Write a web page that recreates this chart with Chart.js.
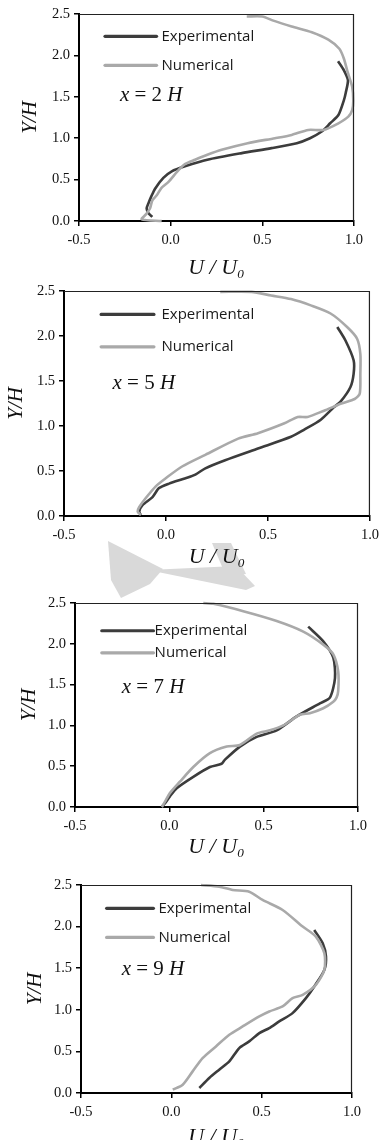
<!DOCTYPE html>
<html><head><meta charset="utf-8">
<script src="https://cdn.jsdelivr.net/npm/chart.js@4.4.1/dist/chart.umd.min.js"></script>
<style>
html,body{margin:0;padding:0;background:#fff;width:384px;height:1140px;overflow:hidden;position:relative}
.wrap{position:absolute;left:0;width:384px}
svg.wm{position:absolute;left:0;top:0}
</style></head><body>
<svg class="wm" width="384" height="1140">
  <polygon points="108,541 163,569 150,584 121,598 111,580" fill="#d9d9d9"/>
  <polygon points="148,570 236,566 255,586 246,590" fill="#d9d9d9"/>
  <polygon points="212,543 231,543 246,574 226,576" fill="#d9d9d9"/>
</svg>
<div class="wrap" id="w1"><canvas id="c1"></canvas></div>
<div class="wrap" id="w2"><canvas id="c2"></canvas></div>
<div class="wrap" id="w3"><canvas id="c3"></canvas></div>
<div class="wrap" id="w4"><canvas id="c4"></canvas></div>
<script>
// ---------- DATA ----------
const xTicks = [-0.5, 0.0, 0.5, 1.0];
const yTicks = [0.0, 0.5, 1.0, 1.5, 2.0, 2.5];
const seriesNames = ['Experimental', 'Numerical'];
const stations = ['2', '5', '7', '9'];
const xAxisTitle = 'U / U\u2080';
const yAxisTitle = 'Y/H';

// x = 2H
const exp2_u = [0.913,0.945,0.967,0.955,0.945,0.915,0.87,0.824,0.76,0.688,0.55,0.388,0.2,0.078,0.006,-0.04,-0.085,-0.105,-0.12,-0.131,-0.12,-0.10];
const exp2_y = [1.93,1.82,1.70,1.55,1.46,1.28,1.18,1.08,1.00,0.94,0.88,0.82,0.74,0.66,0.60,0.52,0.39,0.30,0.22,0.15,0.09,0.05];
const num2_u = [0.415,0.50,0.56,0.66,0.77,0.86,0.92,0.945,0.965,0.99,0.996,0.99,0.969,0.915,0.833,0.751,0.66,0.569,0.42,0.278,0.20,0.133,0.08,0.045,-0.013,-0.05,-0.076,-0.10,-0.113,-0.135,-0.158,-0.049];
const num2_y = [2.47,2.47,2.42,2.35,2.28,2.19,2.08,1.96,1.80,1.62,1.45,1.34,1.26,1.18,1.10,1.10,1.04,1.00,0.94,0.86,0.80,0.74,0.69,0.62,0.47,0.40,0.31,0.25,0.15,0.08,0.02,0.0];

// x = 5H
const exp5_u = [0.84,0.88,0.92,0.92,0.904,0.856,0.824,0.759,0.678,0.613,0.451,0.29,0.193,0.144,0.096,0.015,-0.034,-0.066,-0.115,-0.131,-0.123];
const exp5_y = [2.10,1.95,1.73,1.58,1.43,1.27,1.21,1.07,0.96,0.88,0.75,0.62,0.53,0.46,0.42,0.36,0.31,0.21,0.12,0.05,0.01];
const num5_u = [0.266,0.419,0.516,0.613,0.71,0.807,0.888,0.937,0.953,0.953,0.95,0.925,0.86,0.775,0.694,0.646,0.581,0.451,0.354,0.193,0.079,-0.001,-0.05,-0.099,-0.131,-0.139,-0.123];
const num5_y = [2.49,2.49,2.45,2.41,2.34,2.25,2.10,1.97,1.80,1.58,1.36,1.30,1.25,1.17,1.10,1.10,1.03,0.92,0.86,0.68,0.55,0.42,0.33,0.20,0.10,0.05,0.01];

// x = 7H
const exp7_u = [0.736,0.816,0.869,0.878,0.851,0.798,0.675,0.569,0.463,0.374,0.295,0.277,0.215,0.127,0.039,0.003,-0.023,-0.04];
const exp7_y = [2.21,2.03,1.83,1.58,1.34,1.27,1.11,0.94,0.86,0.74,0.58,0.53,0.49,0.37,0.23,0.13,0.045,0.0];
const num7_u = [0.18,0.233,0.392,0.569,0.71,0.816,0.869,0.895,0.895,0.886,0.869,0.816,0.745,0.692,0.604,0.533,0.463,0.374,0.304,0.215,0.127,0.056,0.003,-0.023,-0.04];
const num7_y = [2.50,2.49,2.40,2.28,2.15,1.99,1.87,1.66,1.42,1.34,1.29,1.21,1.15,1.13,1.00,0.94,0.90,0.76,0.74,0.66,0.49,0.31,0.17,0.065,0.0];

// x = 9H
const exp9_u = [0.791,0.838,0.856,0.847,0.791,0.745,0.671,0.597,0.542,0.487,0.431,0.376,0.321,0.265,0.21,0.155];
const exp9_y = [1.96,1.80,1.64,1.48,1.28,1.14,0.96,0.86,0.78,0.72,0.62,0.54,0.38,0.28,0.18,0.06];
const num9_u = [0.164,0.265,0.339,0.431,0.505,0.616,0.727,0.80,0.847,0.847,0.80,0.727,0.671,0.616,0.542,0.487,0.395,0.321,0.247,0.173,0.118,0.063,0.008];
const num9_y = [2.50,2.48,2.44,2.42,2.32,2.20,2.00,1.88,1.68,1.48,1.30,1.18,1.14,1.04,0.98,0.92,0.80,0.70,0.56,0.42,0.26,0.10,0.04];

// ---------- LAYOUT (page pixels / data-unit anchors) ----------
const layouts = [
  {cTop:0,   l:79, r:354, t:14,  b:221,  yTitleX:30, xTitleD:47, leg:{u0:-0.358,u1:-0.077,ut:-0.05, y:[2.23,1.88]}, note:{u:-0.277, y:1.52}},
  {cTop:277, l:64, r:373, t:291, b:516,  yTitleX:16, xTitleD:41, leg:{u0:-0.318,u1:-0.059,ut:-0.022,y:[2.24,1.88]}, note:{u:-0.262, y:1.47}},
  {cTop:589, l:75, r:358, t:603, b:807,  yTitleX:29, xTitleD:40, leg:{u0:-0.358,u1:-0.084,ut:-0.078,y:[2.16,1.89]}, note:{u:-0.252, y:1.46}},
  {cTop:871, l:81, r:352, t:885, b:1093, yTitleX:35, xTitleD:44, leg:{u0:-0.358,u1:-0.099,ut:-0.071,y:[2.22,1.87]}, note:{u:-0.275, y:1.48}}
];
const colors = ['#3c3c3c', '#a9a9a9'];

const framePlugin = {
  id: 'frame',
  afterDatasetsDraw(chart) {
    const {ctx, chartArea: a} = chart;
    ctx.save();
    ctx.strokeStyle = '#222';
    ctx.lineWidth = 1.2;
    ctx.beginPath();
    ctx.moveTo(a.left, a.top + 0.5);
    ctx.lineTo(a.right - 0.5, a.top + 0.5);
    ctx.lineTo(a.right - 0.5, a.bottom);
    ctx.stroke();
    ctx.restore();
  }
};

const annotPlugin = {
  id: 'annot',
  afterDatasetsDraw(chart, args, opts) {
    const {ctx} = chart;
    const xs = chart.scales.x, ys = chart.scales.y;
    const L = opts.leg;
    ctx.save();
    chart.data.datasets.forEach((ds, i) => {
      const py = ys.getPixelForValue(L.y[i]);
      ctx.strokeStyle = ds.borderColor;
      ctx.lineWidth = 3.2;
      ctx.lineCap = 'round';
      ctx.beginPath();
      ctx.moveTo(xs.getPixelForValue(L.u0), py);
      ctx.lineTo(xs.getPixelForValue(L.u1), py);
      ctx.stroke();
      ctx.fillStyle = '#1a1a1a';
      ctx.font = '15px "Open Sans"';
      ctx.textBaseline = 'middle';
      ctx.textAlign = 'left';
      ctx.fillText(ds.label, xs.getPixelForValue(L.ut), py);
    });
    // station note: x = nH
    const N = opts.note;
    let px = xs.getPixelForValue(N.u);
    const py = ys.getPixelForValue(N.y);
    ctx.fillStyle = '#111';
    ctx.textBaseline = 'middle';
    const parts = [
      ['italic 21px "Liberation Serif"', 'x'],
      ['21px "Liberation Serif"', ' = ' + opts.station + ' '],
      ['italic 21px "Liberation Serif"', 'H']
    ];
    parts.forEach(([f, s]) => {
      ctx.font = f;
      ctx.fillText(s, px, py);
      px += ctx.measureText(s).width;
    });
    ctx.restore();
  }
};

function makeChart(idx, expU, expY, numU, numY) {
  const L = layouts[idx];
  const canvas = document.getElementById('c' + (idx + 1));
  const H = L.b - L.cTop + 70;
  const wrap = canvas.parentNode;
  wrap.style.top = L.cTop + 'px';
  wrap.style.height = H + 'px';
  canvas.width = 384;
  canvas.height = H;
  canvas.style.width = '384px';
  canvas.style.height = H + 'px';
  const pts = (u, y) => u.map((v, i) => ({x: v, y: y[i]}));
  const tickFont = {family: '"Liberation Serif"', size: 14.5};
  new Chart(canvas, {
    type: 'scatter',
    data: {
      datasets: [
        {label: seriesNames[0], data: pts(expU, expY), borderColor: colors[0], backgroundColor: colors[0],
         showLine: true, pointRadius: 0, borderWidth: 2.6, tension: 0.25, order: 1, clip: 4},
        {label: seriesNames[1], data: pts(numU, numY), borderColor: colors[1], backgroundColor: colors[1],
         showLine: true, pointRadius: 0, borderWidth: 2.6, tension: 0.25, order: 0, clip: 4}
      ]
    },
    options: {
      responsive: false,
      animation: false,
      devicePixelRatio: 1,
      layout: {padding: {left: 0, right: 384 - L.r, top: L.t - L.cTop, bottom: 0}},
      plugins: {
        legend: {display: false},
        tooltip: {enabled: false},
        annot: {leg: L.leg, note: L.note, station: stations[idx]}
      },
      scales: {
        x: {
          type: 'linear', min: -0.5, max: 1.0,
          afterBuildTicks: s => { s.ticks = xTicks.map(v => ({value: v})); },
          afterFit: s => { s.height = 70; },
          ticks: {callback: v => Number(v).toFixed(1), font: tickFont, color: '#111', padding: 5, maxRotation: 0, autoSkip: false},
          grid: {drawOnChartArea: false, drawTicks: true, tickLength: 5, color: '#000', lineWidth: 1.5},
          border: {display: true, color: '#000', width: 2},
          title: {display: true, text: xAxisTitle, color: '#111',
                  font: {family: '"Liberation Serif"', style: 'italic', size: 22, lineHeight: 1.2},
                  padding: {top: 0, bottom: 70 - L.xTitleD - 13.2}}
        },
        y: {
          type: 'linear', min: 0, max: 2.5,
          afterBuildTicks: s => { s.ticks = yTicks.map(v => ({value: v})); },
          afterFit: s => { s.width = L.l; },
          ticks: {callback: v => Number(v).toFixed(1), font: tickFont, color: '#111', padding: 4},
          grid: {drawOnChartArea: false, drawTicks: true, tickLength: 5, color: '#000', lineWidth: 1.5},
          border: {display: true, color: '#000', width: 2},
          title: {display: true, text: yAxisTitle, color: '#111',
                  font: {family: '"Liberation Serif"', style: 'italic', size: 21, lineHeight: 1.2},
                  padding: {top: L.yTitleX - 12.6, bottom: 0}}
        }
      }
    },
    plugins: [framePlugin, annotPlugin]
  });
}

makeChart(0, exp2_u, exp2_y, num2_u, num2_y);
makeChart(1, exp5_u, exp5_y, num5_u, num5_y);
makeChart(2, exp7_u, exp7_y, num7_u, num7_y);
makeChart(3, exp9_u, exp9_y, num9_u, num9_y);
</script>
</body></html>
